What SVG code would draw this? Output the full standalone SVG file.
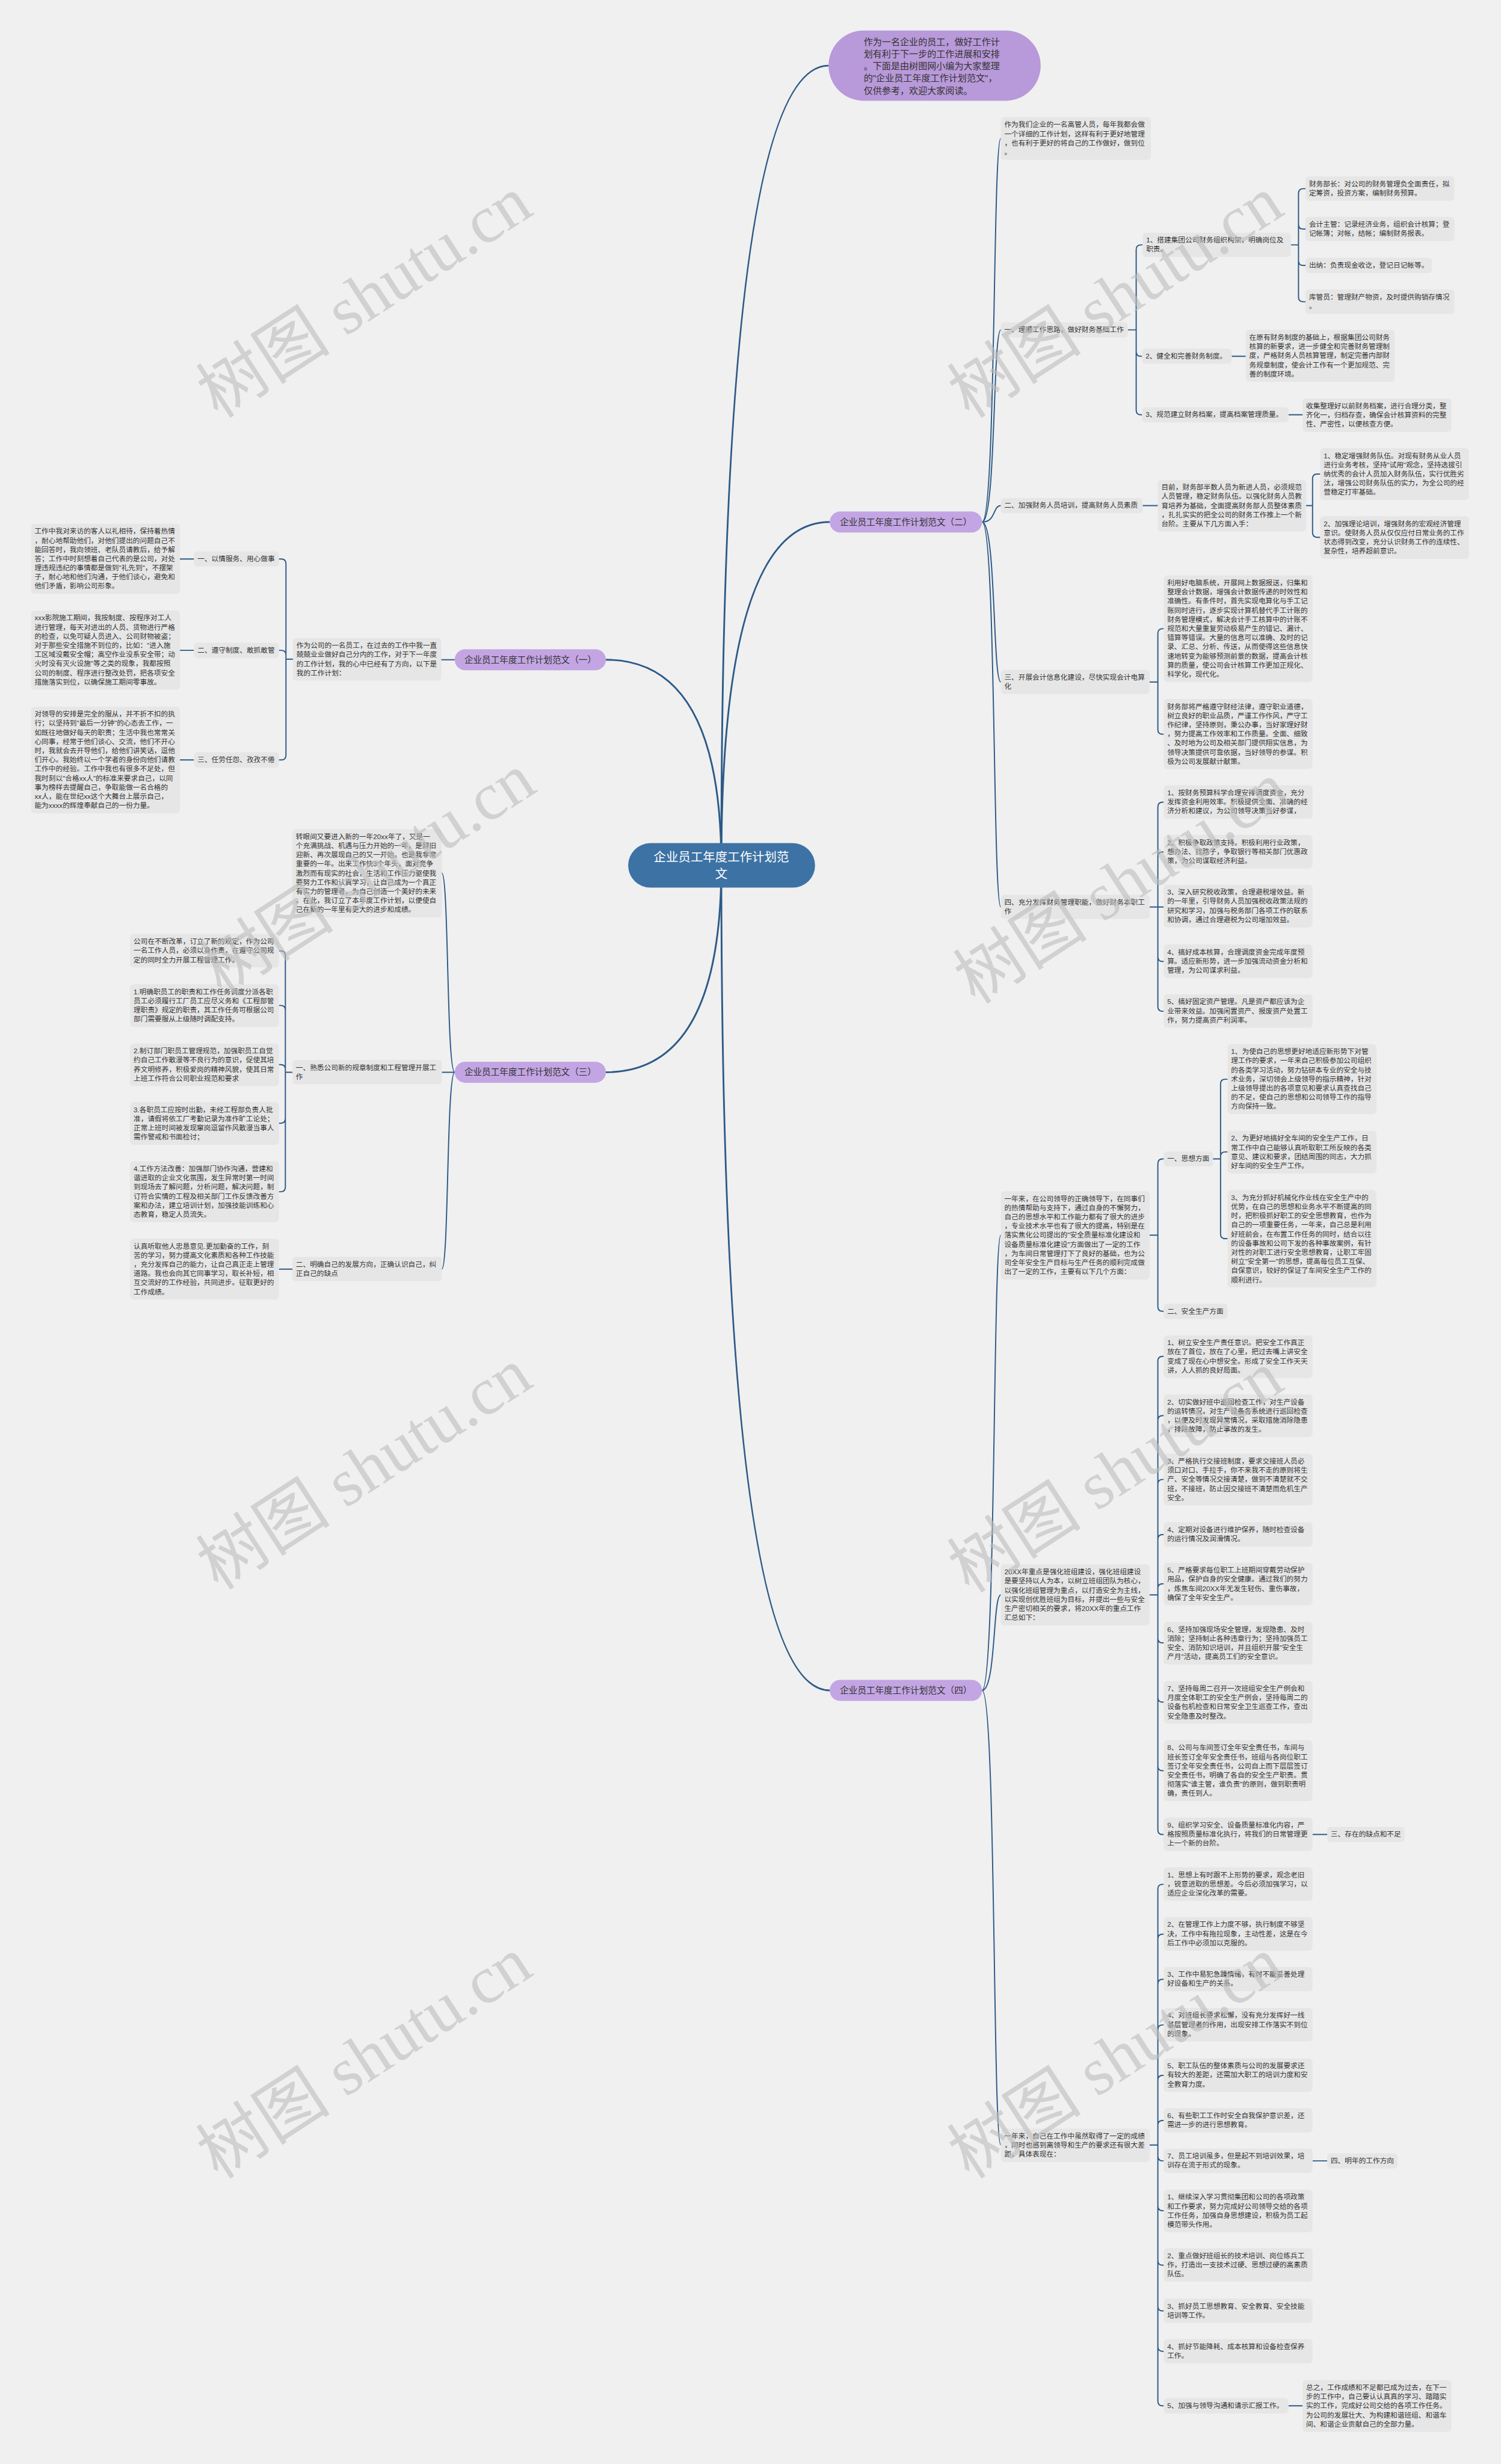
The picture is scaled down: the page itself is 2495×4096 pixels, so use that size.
<svg xmlns="http://www.w3.org/2000/svg" width="2495" height="4096" viewBox="0 0 2495 4096">
<style>
.bx{fill:#e6e6e6}
.t{font-family:"Liberation Sans","Noto Sans CJK SC",sans-serif;font-size:12px;fill:#333}
.pill{fill:#c3a5e3}
.pt{font-family:"Liberation Sans","Noto Sans CJK SC",sans-serif;font-size:15px;fill:#333;text-anchor:middle}
.c{fill:none;stroke:#2d5a87;stroke-width:2}
.cm{fill:none;stroke:#2d5a87;stroke-width:3}
.wm{font-family:"Liberation Serif","Noto Sans CJK SC",serif;font-size:115px;fill:#bdbdbd;opacity:.6}
</style>
<rect width="2495" height="4096" fill="#f0f0f0"/>
<g transform="scale(0.974)">
<g id="connectors">
<path class="cm" d="M1231 1477 Q1231 112 1414 112"/>
<path class="cm" d="M1231 1477 Q1231 891 1416 891"/>
<path class="cm" d="M1231 1477 Q1231 2885 1416 2885"/>
<path class="cm" d="M1231 1477 Q1231 1126 1034 1126"/>
<path class="cm" d="M1231 1477 Q1231 1830 1034 1830"/>
<path class="c" d="M1676 891 C1700 891 1694 236 1708 236 M1676 891 C1700 891 1694 563 1708 563 M1676 891 C1700 891 1694 863 1708 863 M1676 891 C1700 891 1694 1164 1708 1164 M1676 891 C1700 891 1694 1548 1708 1548"/>
<path class="c" d="M1676 2885 C1700 2885 1694 2108 1708 2108 M1676 2885 C1700 2885 1694 2722 1708 2722 M1676 2885 C1700 2885 1694 3661 1708 3661"/>
<path class="c" d="M776 1126 H753"/>
<path class="c" d="M776 1830 C762 1830 766 1490 754 1490 M776 1830 H754 M776 1830 C762 1830 766 2166 754 2166"/>
<path class="c" d="M2203 418 H2216 M2216 418 V330 Q2216 322 2224 322 H2228 M2216 418 V383 Q2216 391 2224 391 H2228 M2216 418 V445 Q2216 453 2224 453 H2228 M2216 418 V507 Q2216 515 2224 515 H2228"/>
<path class="c" d="M2102 608 H2126 M2199 708 H2223"/>
<path class="c" d="M1925 563 H1939 M1939 563 V426 Q1939 418 1947 418 H1950 M1939 563 V600 Q1939 608 1947 608 H1949 M1939 563 V700 Q1939 708 1947 708 H1949"/>
<path class="c" d="M1950 863 H1976 M2229 863 H2240 M2240 863 V817 Q2240 809 2248 809 H2253 M2240 863 V909 Q2240 917 2248 917 H2253"/>
<path class="c" d="M1962 1164 H1976 M1976 1164 V1081 Q1976 1073 1984 1073 H1986 M1976 1164 V1245 Q1976 1253 1984 1253 H1986"/>
<path class="c" d="M1962 1548 H1986 M1976 1548 V1377 Q1976 1369 1984 1369 H1986 M1976 1548 V1462 Q1976 1454 1984 1454 H1986 M1976 1548 V1633 Q1976 1641 1984 1641 H1986 M1976 1548 V1718 Q1976 1726 1984 1726 H1986"/>
<path class="c" d="M1962 2108 H1976 M1976 2108 V1986 Q1976 1978 1984 1978 H1986 M1976 2108 V2230 Q1976 2238 1984 2238 H1986"/>
<path class="c" d="M2070 1978 H2083 M2083 1978 V1850 Q2083 1842 2091 1842 H2095 M2083 1978 V1974 Q2083 1966 2091 1966 H2095 M2083 1978 V2106 Q2083 2114 2091 2114 H2095"/>
<path class="c" d="M1962 2722 H1976 M1976 2722 V2323 Q1976 2315 1984 2315 H1986 M1976 2722 V2424 Q1976 2416 1984 2416 H1986 M1976 2722 V2533 Q1976 2525 1984 2525 H1986 M1976 2722 V2627 Q1976 2619 1984 2619 H1986 M1976 2722 V2711 Q1976 2703 1984 2703 H1986 M1976 2722 V2796 Q1976 2804 1984 2804 H1986 M1976 2722 V2897 Q1976 2905 1984 2905 H1986 M1976 2722 V3014 Q1976 3022 1984 3022 H1986 M1976 2722 V3123 Q1976 3131 1984 3131 H1986 M2240 3131 H2265"/>
<path class="c" d="M1962 3661 H1976 M1976 3661 V3224 Q1976 3216 1984 3216 H1986 M1976 3661 V3309 Q1976 3301 1984 3301 H1986 M1976 3661 V3386 Q1976 3378 1984 3378 H1986 M1976 3661 V3464 Q1976 3456 1984 3456 H1986 M1976 3661 V3550 Q1976 3542 1984 3542 H1986 M1976 3661 V3627 Q1976 3619 1984 3619 H1986 M1976 3661 V3680 Q1976 3688 1984 3688 H1986 M1976 3661 V3765 Q1976 3773 1984 3773 H1986 M1976 3661 V3858 Q1976 3866 1984 3866 H1986 M1976 3661 V3936 Q1976 3944 1984 3944 H1986 M1976 3661 V4005 Q1976 4013 1984 4013 H1986 M1976 3661 V4098 Q1976 4106 1984 4106 H1986 M2240 3688 H2265 M2199 4106 H2223"/>
<path class="c" d="M500 1125 H488 M488 1125 V962 Q488 954 480 954 H476 M488 1125 V1118 Q488 1110 480 1110 H476 M488 1125 V1289 Q488 1297 480 1297 H476 M331 954 H307 M331 1110 H307 M331 1297 H307"/>
<path class="c" d="M499 1830 H487 M487 1830 V1631 Q487 1623 479 1623 H476 M487 1830 V1724 Q487 1716 479 1716 H476 M487 1830 V1825 Q487 1817 479 1817 H476 M487 1830 V1909 Q487 1917 479 1917 H476 M487 1830 V2026 Q487 2034 479 2034 H476 M499 2166 H476"/>
</g>

<g id="n-center"><rect x="1072" y="1439" width="319" height="76" rx="38" fill="#3d72a4"/>
<text font-family="Liberation Sans,Noto Sans CJK SC,sans-serif" font-size="21" fill="#fff" text-anchor="middle"><tspan x="1231" y="1470">企业员工年度工作计划范</tspan><tspan x="1231" y="1499">文</tspan></text></g>

<g id="n-top"><rect x="1414" y="52" width="362" height="120" rx="60" fill="#b899d9"/>
<text class="t" style="font-size:15.5px"><tspan x="1474" y="77">作为一名企业的员工，做好工作计</tspan><tspan x="1474" y="97.7">划有利于下一步的工作进展和安排</tspan><tspan x="1474" y="118.4">。下面是由树图网小编为大家整理</tspan><tspan x="1474" y="139.1">的"企业员工年度工作计划范文"，</tspan><tspan x="1474" y="159.8">仅供参考，欢迎大家阅读。</tspan></text></g>

<g id="b2"><rect class="pill" x="1416" y="873" width="260" height="36" rx="18"/><text class="pt" x="1546" y="896">企业员工年度工作计划范文（二）</text></g>
<g id="b4"><rect class="pill" x="1416" y="2867" width="260" height="36" rx="18"/><text class="pt" x="1546" y="2890">企业员工年度工作计划范文（四）</text></g>
<g id="b1"><rect class="pill" x="776" y="1108" width="258" height="36" rx="18"/><text class="pt" x="905" y="1131">企业员工年度工作计划范文（一）</text></g>
<g id="b3"><rect class="pill" x="776" y="1812" width="258" height="36" rx="18"/><text class="pt" x="905" y="1835">企业员工年度工作计划范文（三）</text></g>

<g id="r0"><rect class="bx" x="1708" y="200" width="256" height="72.8" rx="6"/><text class="t" y="217"><tspan x="1714">作为我们企业的一名高管人员，每年我都会做</tspan><tspan x="1714" dy="15.6">一个详细的工作计划，这样有利于更好地管理</tspan><tspan x="1714" dy="15.6">，也有利于更好的将自己的工作做好，做到位</tspan><tspan x="1714" dy="15.6">。</tspan></text></g>
<g id="r1"><rect class="bx" x="1708" y="550" width="217" height="26" rx="6"/><text class="t" x="1714" y="567">一、理顺工作思路，做好财务基础工作</text></g>
<g id="r1a"><rect class="bx" x="1950" y="397" width="253" height="41.6" rx="6"/><text class="t" y="414"><tspan x="1956">1、搭建集团公司财务组织构架，明确岗位及</tspan><tspan x="1956" dy="15.6">职责。</tspan></text></g>
<g id="r1a1"><rect class="bx" x="2228" y="301" width="254" height="41.6" rx="6"/><text class="t" y="318"><tspan x="2234">财务部长：对公司的财务管理负全面责任，拟</tspan><tspan x="2234" dy="15.6">定筹资，投资方案，编制财务预算。</tspan></text></g>
<g id="r1a2"><rect class="bx" x="2228" y="370" width="254" height="41.6" rx="6"/><text class="t" y="387"><tspan x="2234">会计主管：记录经济业务，组织会计核算；登</tspan><tspan x="2234" dy="15.6">记帐簿；对帐，结帐；编制财务报表。</tspan></text></g>
<g id="r1a3"><rect class="bx" x="2228" y="440" width="216" height="26" rx="6"/><text class="t" x="2234" y="457">出纳：负责现金收讫，登记日记帐等。</text></g>
<g id="r1a4"><rect class="bx" x="2228" y="494" width="254" height="41.6" rx="6"/><text class="t" y="511"><tspan x="2234">库管员：管理财产物资，及时提供购销存情况</tspan><tspan x="2234" dy="15.6">。</tspan></text></g>
<g id="r1b"><rect class="bx" x="1949" y="595" width="153" height="26" rx="6"/><text class="t" x="1955" y="612">2、健全和完善财务制度。</text></g>
<g id="r1b1"><rect class="bx" x="2126" y="563" width="254" height="88.4" rx="6"/><text class="t" y="580"><tspan x="2132">在原有财务制度的基础上，根据集团公司财务</tspan><tspan x="2132" dy="15.6">核算的新要求，进一步健全和完善财务管理制</tspan><tspan x="2132" dy="15.6">度，严格财务人员核算管理，制定完善内部财</tspan><tspan x="2132" dy="15.6">务规章制度，使会计工作有一个更加规范、完</tspan><tspan x="2132" dy="15.6">善的制度环境。</tspan></text></g>
<g id="r1c"><rect class="bx" x="1949" y="695" width="250" height="26" rx="6"/><text class="t" x="1955" y="712">3、规范建立财务档案，提高档案管理质量。</text></g>
<g id="r1c1"><rect class="bx" x="2223" y="680" width="254" height="57.2" rx="6"/><text class="t" y="697"><tspan x="2229">收集整理好以前财务档案，进行合理分类，整</tspan><tspan x="2229" dy="15.6">齐化一，归档存查，确保会计核算资料的完整</tspan><tspan x="2229" dy="15.6">性、严密性，以便核查方便。</tspan></text></g>
<g id="r2"><rect class="bx" x="1708" y="850" width="242" height="26" rx="6"/><text class="t" x="1714" y="867">二、加强财务人员培训，提高财务人员素质</text></g>
<g id="r2a"><rect class="bx" x="1976" y="819" width="253" height="88.4" rx="6"/><text class="t" y="836"><tspan x="1982">目前，财务部半数人员为新进人员，必须规范</tspan><tspan x="1982" dy="15.6">人员管理，稳定财务队伍。以强化财务人员教</tspan><tspan x="1982" dy="15.6">育培养为基础，全面提高财务部人员整体素质</tspan><tspan x="1982" dy="15.6">，扎扎实实的把全公司的财务工作推上一个新</tspan><tspan x="1982" dy="15.6">台阶。主要从下几方面入手：</tspan></text></g>
<g id="r2a1"><rect class="bx" x="2253" y="765" width="254" height="88.4" rx="6"/><text class="t" y="782"><tspan x="2259">1、稳定增强财务队伍。对现有财务从业人员</tspan><tspan x="2259" dy="15.6">进行业务考核，坚持"试用"观念，坚持选拔引</tspan><tspan x="2259" dy="15.6">纳优秀的会计人员加入财务队伍，实行优胜劣</tspan><tspan x="2259" dy="15.6">汰，增强公司财务队伍的实力，为全公司的经</tspan><tspan x="2259" dy="15.6">营稳定打牢基础。</tspan></text></g>
<g id="r2a2"><rect class="bx" x="2253" y="881" width="254" height="72.8" rx="6"/><text class="t" y="898"><tspan x="2259">2、加强理论培训，增强财务的宏观经济管理</tspan><tspan x="2259" dy="15.6">意识。使财务人员从仅仅应付日常业务的工作</tspan><tspan x="2259" dy="15.6">状态得到改变，充分认识财务工作的连续性、</tspan><tspan x="2259" dy="15.6">复杂性，培养超前意识。</tspan></text></g>
<g id="r3"><rect class="bx" x="1708" y="1143" width="254" height="41.6" rx="6"/><text class="t" y="1160"><tspan x="1714">三、开展会计信息化建设，尽快实现会计电算</tspan><tspan x="1714" dy="15.6">化</tspan></text></g>
<g id="r3a"><rect class="bx" x="1986" y="982" width="254" height="182" rx="6"/><text class="t" y="999"><tspan x="1992">利用好电脑系统，开展网上数据报送，归集和</tspan><tspan x="1992" dy="15.6">整理会计数据，增强会计数据传递的时效性和</tspan><tspan x="1992" dy="15.6">准确性。有条件时，首先实现电算化与手工记</tspan><tspan x="1992" dy="15.6">账同时进行，逐步实现计算机替代手工计账的</tspan><tspan x="1992" dy="15.6">财务管理模式，解决会计手工核算中的计账不</tspan><tspan x="1992" dy="15.6">规范和大量重复劳动极易产生的错记、漏计、</tspan><tspan x="1992" dy="15.6">错算等错误。大量的信息可以准确、及时的记</tspan><tspan x="1992" dy="15.6">录、汇总、分析、传送，从而使得这些信息快</tspan><tspan x="1992" dy="15.6">速地转变为能够预测前景的数据，提高会计核</tspan><tspan x="1992" dy="15.6">算的质量，使公司会计核算工作更加正规化、</tspan><tspan x="1992" dy="15.6">科学化，现代化。</tspan></text></g>
<g id="r3b"><rect class="bx" x="1986" y="1193" width="254" height="119.6" rx="6"/><text class="t" y="1210"><tspan x="1992">财务部将严格遵守财经法律，遵守职业道德，</tspan><tspan x="1992" dy="15.6">树立良好的职业品质，严谨工作作风，严守工</tspan><tspan x="1992" dy="15.6">作纪律，坚持原则，秉公办事，当好家理好财</tspan><tspan x="1992" dy="15.6">，努力提高工作效率和工作质量。全面、细致</tspan><tspan x="1992" dy="15.6">、及时地为公司及相关部门提供翔实信息，为</tspan><tspan x="1992" dy="15.6">领导决策提供可靠依据，当好领导的参谋。积</tspan><tspan x="1992" dy="15.6">极为公司发展献计献策。</tspan></text></g>
<g id="r4"><rect class="bx" x="1708" y="1527" width="254" height="41.6" rx="6"/><text class="t" y="1544"><tspan x="1714">四、充分发挥财务管理职能，做好财务本职工</tspan><tspan x="1714" dy="15.6">作</tspan></text></g>
<g id="r4a"><rect class="bx" x="1986" y="1340" width="254" height="57.2" rx="6"/><text class="t" y="1357"><tspan x="1992">1、按财务预算科学合理安排调度资金，充分</tspan><tspan x="1992" dy="15.6">发挥资金利用效率。积极提供全面、准确的经</tspan><tspan x="1992" dy="15.6">济分析和建议，为公司领导决策当好参谋，</tspan></text></g>
<g id="r4b"><rect class="bx" x="1986" y="1425" width="254" height="57.2" rx="6"/><text class="t" y="1442"><tspan x="1992">2、积极争取政策支持。积极利用行业政策，</tspan><tspan x="1992" dy="15.6">想办法、找路子，争取银行等相关部门优惠政</tspan><tspan x="1992" dy="15.6">策，为公司谋取经济利益。</tspan></text></g>
<g id="r4c"><rect class="bx" x="1986" y="1510" width="254" height="72.8" rx="6"/><text class="t" y="1527"><tspan x="1992">3、深入研究税收政策，合理避税增效益。新</tspan><tspan x="1992" dy="15.6">的一年里，引导财务人员加强税收政策法规的</tspan><tspan x="1992" dy="15.6">研究和学习，加强与税务部门各项工作的联系</tspan><tspan x="1992" dy="15.6">和协调，通过合理避税为公司增加效益。</tspan></text></g>
<g id="r4d"><rect class="bx" x="1986" y="1612" width="254" height="57.2" rx="6"/><text class="t" y="1629"><tspan x="1992">4、搞好成本核算，合理调度资金完成年度预</tspan><tspan x="1992" dy="15.6">算。适应新形势，进一步加强流动资金分析和</tspan><tspan x="1992" dy="15.6">管理，为公司谋求利益。</tspan></text></g>
<g id="r4e"><rect class="bx" x="1986" y="1697" width="254" height="57.2" rx="6"/><text class="t" y="1714"><tspan x="1992">5、搞好固定资产管理。凡是资产都应该为企</tspan><tspan x="1992" dy="15.6">业带来效益。加强闲置资产、报废资产处置工</tspan><tspan x="1992" dy="15.6">作，努力提高资产利润率。</tspan></text></g>

<g id="s0"><rect class="bx" x="1708" y="2033" width="254" height="150.8" rx="6"/><text class="t" y="2050"><tspan x="1714">一年来，在公司领导的正确领导下，在同事们</tspan><tspan x="1714" dy="15.6">的热情帮助与支持下，通过自身的不懈努力，</tspan><tspan x="1714" dy="15.6">自己的思想水平和工作能力都有了很大的进步</tspan><tspan x="1714" dy="15.6">，专业技术水平也有了很大的提高，特别是在</tspan><tspan x="1714" dy="15.6">落实焦化公司提出的"安全质量标准化建设和</tspan><tspan x="1714" dy="15.6">设备质量标准化建设"方面做出了一定的工作</tspan><tspan x="1714" dy="15.6">，为车间日常管理打下了良好的基础，也为公</tspan><tspan x="1714" dy="15.6">司全年安全生产目标与生产任务的顺利完成做</tspan><tspan x="1714" dy="15.6">出了一定的工作，主要有以下几个方面：</tspan></text></g>
<g id="s0a"><rect class="bx" x="1986" y="1965" width="84" height="26" rx="6"/><text class="t" x="1992" y="1982">一、思想方面</text></g>
<g id="s0b"><rect class="bx" x="1986" y="2225" width="109" height="26" rx="6"/><text class="t" x="1992" y="2242">二、安全生产方面</text></g>
<g id="s0a1"><rect class="bx" x="2095" y="1782" width="254" height="119.6" rx="6"/><text class="t" y="1799"><tspan x="2101">1、为使自己的思想更好地适应新形势下对管</tspan><tspan x="2101" dy="15.6">理工作的要求，一年来自己积极参加公司组织</tspan><tspan x="2101" dy="15.6">的各类学习活动，努力钻研本专业的安全与技</tspan><tspan x="2101" dy="15.6">术业务，深切领会上级领导的指示精神，针对</tspan><tspan x="2101" dy="15.6">上级领导提出的各项意见和要求认真查找自己</tspan><tspan x="2101" dy="15.6">的不足，使自己的思想和公司领导工作的指导</tspan><tspan x="2101" dy="15.6">方向保持一致。</tspan></text></g>
<g id="s0a2"><rect class="bx" x="2095" y="1930" width="254" height="72.8" rx="6"/><text class="t" y="1947"><tspan x="2101">2、为更好地搞好全车间的安全生产工作，日</tspan><tspan x="2101" dy="15.6">常工作中自己能够认真听取职工所反映的各类</tspan><tspan x="2101" dy="15.6">意见、建议和要求，团结周围的同志，大力抓</tspan><tspan x="2101" dy="15.6">好车间的安全生产工作。</tspan></text></g>
<g id="s0a3"><rect class="bx" x="2095" y="2031" width="254" height="166.4" rx="6"/><text class="t" y="2048"><tspan x="2101">3、为充分抓好机械化作业线在安全生产中的</tspan><tspan x="2101" dy="15.6">优势，在自己的思想和业务水平不断提高的同</tspan><tspan x="2101" dy="15.6">时，把积极抓好职工的安全思想教育，也作为</tspan><tspan x="2101" dy="15.6">自己的一项重要任务，一年来，自己总是利用</tspan><tspan x="2101" dy="15.6">好班前会，在布置工作任务的同时，结合以往</tspan><tspan x="2101" dy="15.6">的设备事故和公司下发的各种事故案例，有针</tspan><tspan x="2101" dy="15.6">对性的对职工进行安全思想教育，让职工牢固</tspan><tspan x="2101" dy="15.6">树立"安全第一"的思想，提高每位员工互保、</tspan><tspan x="2101" dy="15.6">自保意识，较好的保证了车间安全生产工作的</tspan><tspan x="2101" dy="15.6">顺利进行。</tspan></text></g>

<g id="s1"><rect class="bx" x="1708" y="2670" width="254" height="104" rx="6"/><text class="t" y="2687"><tspan x="1714">20XX年重点是强化班组建设，强化班组建设</tspan><tspan x="1714" dy="15.6">是要坚持以人为本，以树立班组团队为核心，</tspan><tspan x="1714" dy="15.6">以强化班组管理为重点，以打造安全为主线，</tspan><tspan x="1714" dy="15.6">以实现创优胜班组为目标，并提出一些与安全</tspan><tspan x="1714" dy="15.6">生产密切相关的要求，将20XX年的重点工作</tspan><tspan x="1714" dy="15.6">汇总如下：</tspan></text></g>
<g id="s1a"><rect class="bx" x="1986" y="2279" width="254" height="72.8" rx="6"/><text class="t" y="2296"><tspan x="1992">1、树立安全生产责任意识。把安全工作真正</tspan><tspan x="1992" dy="15.6">放在了首位，放在了心里，把过去嘴上讲安全</tspan><tspan x="1992" dy="15.6">变成了现在心中想安全。形成了安全工作天天</tspan><tspan x="1992" dy="15.6">讲，人人抓的良好局面。</tspan></text></g>
<g id="s1b"><rect class="bx" x="1986" y="2380" width="254" height="72.8" rx="6"/><text class="t" y="2397"><tspan x="1992">2、切实做好班中巡回检查工作，对生产设备</tspan><tspan x="1992" dy="15.6">的运转情况，对生产设备各系统进行巡回检查</tspan><tspan x="1992" dy="15.6">，以便及时发现异常情况，采取措施消除隐患</tspan><tspan x="1992" dy="15.6">，排除故障，防止事故的发生。</tspan></text></g>
<g id="s1c"><rect class="bx" x="1986" y="2481" width="254" height="88.4" rx="6"/><text class="t" y="2498"><tspan x="1992">3、严格执行交接班制度，要求交接班人员必</tspan><tspan x="1992" dy="15.6">须口对口、手拉手，你不来我不走的原则将生</tspan><tspan x="1992" dy="15.6">产、安全等情况交接清楚，做到不清楚就不交</tspan><tspan x="1992" dy="15.6">班，不接班，防止因交接班不清楚而危机生产</tspan><tspan x="1992" dy="15.6">安全。</tspan></text></g>
<g id="s1d"><rect class="bx" x="1986" y="2598" width="254" height="41.6" rx="6"/><text class="t" y="2615"><tspan x="1992">4、定期对设备进行维护保养，随时检查设备</tspan><tspan x="1992" dy="15.6">的运行情况及润滑情况。</tspan></text></g>
<g id="s1e"><rect class="bx" x="1986" y="2667" width="254" height="72.8" rx="6"/><text class="t" y="2684"><tspan x="1992">5、严格要求每位职工上班期间穿戴劳动保护</tspan><tspan x="1992" dy="15.6">用品，保护自身的安全健康。通过我们的努力</tspan><tspan x="1992" dy="15.6">，炼焦车间20XX年无发生轻伤、重伤事故，</tspan><tspan x="1992" dy="15.6">确保了全年安全生产。</tspan></text></g>
<g id="s1f"><rect class="bx" x="1986" y="2768" width="254" height="72.8" rx="6"/><text class="t" y="2785"><tspan x="1992">6、坚持加强现场安全管理，发现隐患、及时</tspan><tspan x="1992" dy="15.6">消除；坚持制止各种违章行为；坚持加强员工</tspan><tspan x="1992" dy="15.6">安全、消防知识培训，并且组织开展"安全生</tspan><tspan x="1992" dy="15.6">产月"活动，提高员工们的安全意识。</tspan></text></g>
<g id="s1g"><rect class="bx" x="1986" y="2869" width="254" height="72.8" rx="6"/><text class="t" y="2886"><tspan x="1992">7、坚持每周二召开一次班组安全生产例会和</tspan><tspan x="1992" dy="15.6">月度全体职工的安全生产例会，坚持每周二的</tspan><tspan x="1992" dy="15.6">设备包机检查和日常安全卫生巡查工作，查出</tspan><tspan x="1992" dy="15.6">安全隐患及时整改。</tspan></text></g>
<g id="s1h"><rect class="bx" x="1986" y="2970" width="254" height="104" rx="6"/><text class="t" y="2987"><tspan x="1992">8、公司与车间签订全年安全责任书，车间与</tspan><tspan x="1992" dy="15.6">班长签订全年安全责任书，班组与各岗位职工</tspan><tspan x="1992" dy="15.6">签订全年安全责任书，公司自上而下层层签订</tspan><tspan x="1992" dy="15.6">安全责任书，明确了各自的安全生产职责。贯</tspan><tspan x="1992" dy="15.6">彻落实"谁主管，谁负责"的原则，做到职责明</tspan><tspan x="1992" dy="15.6">确，责任到人。</tspan></text></g>
<g id="s1i"><rect class="bx" x="1986" y="3102" width="254" height="57.2" rx="6"/><text class="t" y="3119"><tspan x="1992">9、组织学习安全、设备质量标准化内容，严</tspan><tspan x="1992" dy="15.6">格按照质量标准化执行，将我们的日常管理更</tspan><tspan x="1992" dy="15.6">上一个新的台阶。</tspan></text></g>
<g id="s1i1"><rect class="bx" x="2265" y="3118" width="132" height="26" rx="6"/><text class="t" x="2271" y="3135">三、存在的缺点和不足</text></g>

<g id="s2"><rect class="bx" x="1708" y="3633" width="254" height="57.2" rx="6"/><text class="t" y="3650"><tspan x="1714">一年来，自己在工作中虽然取得了一定的成绩</tspan><tspan x="1714" dy="15.6">，同时也感到离领导和生产的要求还有很大差</tspan><tspan x="1714" dy="15.6">距，具体表现在：</tspan></text></g>
<g id="s2a"><rect class="bx" x="1986" y="3187" width="254" height="57.2" rx="6"/><text class="t" y="3204"><tspan x="1992">1、思想上有时跟不上形势的要求，观念老旧</tspan><tspan x="1992" dy="15.6">，锐意进取的思想差。今后必须加强学习，以</tspan><tspan x="1992" dy="15.6">适应企业深化改革的需要。</tspan></text></g>
<g id="s2b"><rect class="bx" x="1986" y="3272" width="254" height="57.2" rx="6"/><text class="t" y="3289"><tspan x="1992">2、在管理工作上力度不够，执行制度不够坚</tspan><tspan x="1992" dy="15.6">决，工作中有拖拉现象，主动性差，这是在今</tspan><tspan x="1992" dy="15.6">后工作中必须加以克服的。</tspan></text></g>
<g id="s2c"><rect class="bx" x="1986" y="3357" width="254" height="41.6" rx="6"/><text class="t" y="3374"><tspan x="1992">3、工作中易犯急躁情绪，有时不能妥善处理</tspan><tspan x="1992" dy="15.6">好设备和生产的关系。</tspan></text></g>
<g id="s2d"><rect class="bx" x="1986" y="3427" width="254" height="57.2" rx="6"/><text class="t" y="3444"><tspan x="1992">4、对班组长要求松懈，没有充分发挥好一线</tspan><tspan x="1992" dy="15.6">基层管理者的作用，出现安排工作落实不到位</tspan><tspan x="1992" dy="15.6">的现象。</tspan></text></g>
<g id="s2e"><rect class="bx" x="1986" y="3513" width="254" height="57.2" rx="6"/><text class="t" y="3530"><tspan x="1992">5、职工队伍的整体素质与公司的发展要求还</tspan><tspan x="1992" dy="15.6">有较大的差距，还需加大职工的培训力度和安</tspan><tspan x="1992" dy="15.6">全教育力度。</tspan></text></g>
<g id="s2f"><rect class="bx" x="1986" y="3598" width="254" height="41.6" rx="6"/><text class="t" y="3615"><tspan x="1992">6、有些职工工作时安全自我保护意识差，还</tspan><tspan x="1992" dy="15.6">需进一步的进行思想教育。</tspan></text></g>
<g id="s2g"><rect class="bx" x="1986" y="3667" width="254" height="41.6" rx="6"/><text class="t" y="3684"><tspan x="1992">7、员工培训虽多，但是起不到培训效果，培</tspan><tspan x="1992" dy="15.6">训存在流于形式的现象。</tspan></text></g>
<g id="s2g1"><rect class="bx" x="2265" y="3675" width="120" height="26" rx="6"/><text class="t" x="2271" y="3692">四、明年的工作方向</text></g>
<g id="s2h"><rect class="bx" x="1986" y="3737" width="254" height="72.8" rx="6"/><text class="t" y="3754"><tspan x="1992">1、继续深入学习贯彻集团和公司的各项政策</tspan><tspan x="1992" dy="15.6">和工作要求，努力完成好公司领导交给的各项</tspan><tspan x="1992" dy="15.6">工作任务，加强自身思想建设，积极为员工起</tspan><tspan x="1992" dy="15.6">模范带头作用。</tspan></text></g>
<g id="s2i"><rect class="bx" x="1986" y="3837" width="254" height="57.2" rx="6"/><text class="t" y="3854"><tspan x="1992">2、重点做好班组长的技术培训、岗位练兵工</tspan><tspan x="1992" dy="15.6">作，打造出一支技术过硬、思想过硬的高素质</tspan><tspan x="1992" dy="15.6">队伍。</tspan></text></g>
<g id="s2j"><rect class="bx" x="1986" y="3923" width="254" height="41.6" rx="6"/><text class="t" y="3940"><tspan x="1992">3、抓好员工思想教育、安全教育、安全技能</tspan><tspan x="1992" dy="15.6">培训等工作。</tspan></text></g>
<g id="s2k"><rect class="bx" x="1986" y="3992" width="254" height="41.6" rx="6"/><text class="t" y="4009"><tspan x="1992">4、抓好节能降耗、成本核算和设备检查保养</tspan><tspan x="1992" dy="15.6">工作。</tspan></text></g>
<g id="s2l"><rect class="bx" x="1986" y="4093" width="213" height="26" rx="6"/><text class="t" x="1992" y="4110">5、加强与领导沟通和请示汇报工作。</text></g>
<g id="s2l1"><rect class="bx" x="2223" y="4062" width="254" height="88.4" rx="6"/><text class="t" y="4079"><tspan x="2229">总之，工作成绩和不足都已成为过去，在下一</tspan><tspan x="2229" dy="15.6">步的工作中，自己要认认真真的学习、踏踏实</tspan><tspan x="2229" dy="15.6">实的工作，完成好公司交给的各项工作任务。</tspan><tspan x="2229" dy="15.6">为公司的发展壮大、为构建和谐班组、和谐车</tspan><tspan x="2229" dy="15.6">间、和谐企业贡献自己的全部力量。</tspan></text></g>

<g id="l0"><rect class="bx" x="500" y="1089" width="253" height="72.8" rx="6"/><text class="t" y="1106"><tspan x="506">作为公司的一名员工，在过去的工作中我一直</tspan><tspan x="506" dy="15.6">兢兢业业做好自己分内的工作，对于下一年度</tspan><tspan x="506" dy="15.6">的工作计划，我的心中已经有了方向，以下是</tspan><tspan x="506" dy="15.6">我的工作计划：</tspan></text></g>
<g id="la"><rect class="bx" x="331" y="941" width="145" height="26" rx="6"/><text class="t" x="337" y="958">一、以情服务、用心做事</text></g>
<g id="lb"><rect class="bx" x="331" y="1097" width="145" height="26" rx="6"/><text class="t" x="337" y="1114">二、遵守制度、敢抓敢管</text></g>
<g id="lc"><rect class="bx" x="331" y="1284" width="145" height="26" rx="6"/><text class="t" x="337" y="1301">三、任劳任怨、孜孜不倦</text></g>
<g id="la1"><rect class="bx" x="53" y="894" width="254" height="119.6" rx="6"/><text class="t" y="911"><tspan x="59">工作中我对来访的客人以礼相待，保持着热情</tspan><tspan x="59" dy="15.6">，耐心地帮助他们，对他们提出的问题自己不</tspan><tspan x="59" dy="15.6">能回答时，我向领班、老队员请教后，给予解</tspan><tspan x="59" dy="15.6">答；工作中时刻想着自己代表的是公司，对处</tspan><tspan x="59" dy="15.6">理违规违纪的事情都是做到"礼先到"，不摆架</tspan><tspan x="59" dy="15.6">子，耐心地和他们沟通，于他们谈心，避免和</tspan><tspan x="59" dy="15.6">他们矛盾，影响公司形象。</tspan></text></g>
<g id="lb1"><rect class="bx" x="53" y="1042" width="254" height="135.2" rx="6"/><text class="t" y="1059"><tspan x="59">xxx影院施工期间，我按制度、按程序对工人</tspan><tspan x="59" dy="15.6">进行管理，每天对进出的人员、货物进行严格</tspan><tspan x="59" dy="15.6">的检查，以免可疑人员进入、公司财物被盗；</tspan><tspan x="59" dy="15.6">对于那些安全措施不到位的，比如："进入施</tspan><tspan x="59" dy="15.6">工区域没戴安全帽；高空作业没系安全带；动</tspan><tspan x="59" dy="15.6">火时没有灭火设施"等之类的现象，我都按照</tspan><tspan x="59" dy="15.6">公司的制度、程序进行整改处罚，把各项安全</tspan><tspan x="59" dy="15.6">措施落实到位，以确保施工期间零事故。</tspan></text></g>
<g id="lc1"><rect class="bx" x="53" y="1206" width="254" height="182" rx="6"/><text class="t" y="1223"><tspan x="59">对领导的安排是完全的服从，并不折不扣的执</tspan><tspan x="59" dy="15.6">行；以坚持到"最后一分钟"的心态去工作，一</tspan><tspan x="59" dy="15.6">如既往地做好每天的职责；生活中我也常常关</tspan><tspan x="59" dy="15.6">心同事，经常于他们谈心、交流，他们不开心</tspan><tspan x="59" dy="15.6">时，我就会去开导他们，给他们讲笑话，逗他</tspan><tspan x="59" dy="15.6">们开心。我始终以一个学者的身份向他们请教</tspan><tspan x="59" dy="15.6">工作中的经验。工作中我也有很多不足处，但</tspan><tspan x="59" dy="15.6">我时刻以"合格xx人"的标准来要求自己，以同</tspan><tspan x="59" dy="15.6">事为榜样去提醒自己，争取能做一名合格的</tspan><tspan x="59" dy="15.6">xx人，能在世纪xx这个大舞台上展示自己，</tspan><tspan x="59" dy="15.6">能为xxxx的辉煌奉献自己的一份力量。</tspan></text></g>

<g id="m0"><rect class="bx" x="499" y="1415" width="255" height="150.8" rx="6"/><text class="t" y="1432"><tspan x="505">转眼间又要进入新的一年20xx年了，又是一</tspan><tspan x="505" dy="15.6">个充满挑战、机遇与压力开始的一年，是辞旧</tspan><tspan x="505" dy="15.6">迎新、再次展现自己的又一开始。也是我非常</tspan><tspan x="505" dy="15.6">重要的一年。出来工作快3个年头，面对竞争</tspan><tspan x="505" dy="15.6">激烈而有现实的社会，生活和工作压力驱使我</tspan><tspan x="505" dy="15.6">要努力工作和认真学习，让自己成为一个真正</tspan><tspan x="505" dy="15.6">有实力的管理者，为自己创造一个美好的未来</tspan><tspan x="505" dy="15.6">。在此，我订立了本年度工作计划，以便使自</tspan><tspan x="505" dy="15.6">己在新的一年里有更大的进步和成绩。</tspan></text></g>
<g id="m1"><rect class="bx" x="499" y="1809" width="255" height="41.6" rx="6"/><text class="t" y="1826"><tspan x="505">一、熟悉公司新的规章制度和工程管理开展工</tspan><tspan x="505" dy="15.6">作</tspan></text></g>
<g id="m2"><rect class="bx" x="499" y="2145" width="255" height="41.6" rx="6"/><text class="t" y="2162"><tspan x="505">二、明确自己的发展方向，正确认识自己，纠</tspan><tspan x="505" dy="15.6">正自己的缺点</tspan></text></g>
<g id="m1a"><rect class="bx" x="222" y="1594" width="254" height="57.2" rx="6"/><text class="t" y="1611"><tspan x="228">公司在不断改革，订立了新的规定，作为公司</tspan><tspan x="228" dy="15.6">一名工作人员，必须以身作责，在遵守公司规</tspan><tspan x="228" dy="15.6">定的同时全力开展工程管理工作。</tspan></text></g>
<g id="m1b"><rect class="bx" x="222" y="1680" width="254" height="72.8" rx="6"/><text class="t" y="1697"><tspan x="228">1.明确职员工的职责和工作任务调度分派各职</tspan><tspan x="228" dy="15.6">员工必须履行工厂员工应尽义务和《工程部管</tspan><tspan x="228" dy="15.6">理职责》规定的职责，其工作任务可根据公司</tspan><tspan x="228" dy="15.6">部门需要服从上级随时调配支持。</tspan></text></g>
<g id="m1c"><rect class="bx" x="222" y="1781" width="254" height="72.8" rx="6"/><text class="t" y="1798"><tspan x="228">2.制订部门职员工管理规范，加强职员工自觉</tspan><tspan x="228" dy="15.6">约自己工作散漫等不良行为的意识，促使其培</tspan><tspan x="228" dy="15.6">养文明修养，积极爱岗的精神风貌，使其日常</tspan><tspan x="228" dy="15.6">上班工作符合公司职业规范和要求</tspan></text></g>
<g id="m1d"><rect class="bx" x="222" y="1881" width="254" height="72.8" rx="6"/><text class="t" y="1898"><tspan x="228">3.各职员工应按时出勤，未经工程部负责人批</tspan><tspan x="228" dy="15.6">准，请假将依工厂考勤记录为准作旷工论处；</tspan><tspan x="228" dy="15.6">正常上班时间被发现窜岗逗留作风散漫当事人</tspan><tspan x="228" dy="15.6">需作警戒和书面检讨；</tspan></text></g>
<g id="m1e"><rect class="bx" x="222" y="1982" width="254" height="104" rx="6"/><text class="t" y="1999"><tspan x="228">4.工作方法改善：加强部门协作沟通，营建和</tspan><tspan x="228" dy="15.6">谐进取的企业文化氛围，发生异常时第一时间</tspan><tspan x="228" dy="15.6">到现场去了解问题，分析问题，解决问题，制</tspan><tspan x="228" dy="15.6">订符合实情的工程及相关部门工作反馈改善方</tspan><tspan x="228" dy="15.6">案和办法，建立培训计划，加强技能训练和心</tspan><tspan x="228" dy="15.6">态教育，稳定人员流失。</tspan></text></g>
<g id="m2a"><rect class="bx" x="222" y="2114" width="254" height="104" rx="6"/><text class="t" y="2131"><tspan x="228">认真听取他人忠恳意见.更加勤奋的工作，刻</tspan><tspan x="228" dy="15.6">苦的学习，努力提高文化素质和各种工作技能</tspan><tspan x="228" dy="15.6">，充分发挥自己的能力，让自己真正走上管理</tspan><tspan x="228" dy="15.6">道路。我也会向其它同事学习，取长补短，相</tspan><tspan x="228" dy="15.6">互交流好的工作经验，共同进步。征取更好的</tspan><tspan x="228" dy="15.6">工作成绩。</tspan></text></g>

<g id="watermarks">
<text class="wm" text-anchor="middle" transform="translate(643 540) rotate(-33)">树图 shutu.cn</text>
<text class="wm" text-anchor="middle" transform="translate(1925 540) rotate(-33)">树图 shutu.cn</text>
<text class="wm" text-anchor="middle" transform="translate(649 1525) rotate(-33)">树图 shutu.cn</text>
<text class="wm" text-anchor="middle" transform="translate(1935 1540) rotate(-33)">树图 shutu.cn</text>
<text class="wm" text-anchor="middle" transform="translate(643 2540) rotate(-33)">树图 shutu.cn</text>
<text class="wm" text-anchor="middle" transform="translate(1925 2545) rotate(-33)">树图 shutu.cn</text>
<text class="wm" text-anchor="middle" transform="translate(643 3545) rotate(-33)">树图 shutu.cn</text>
<text class="wm" text-anchor="middle" transform="translate(1925 3545) rotate(-33)">树图 shutu.cn</text>
</g>
</g>
</svg>
